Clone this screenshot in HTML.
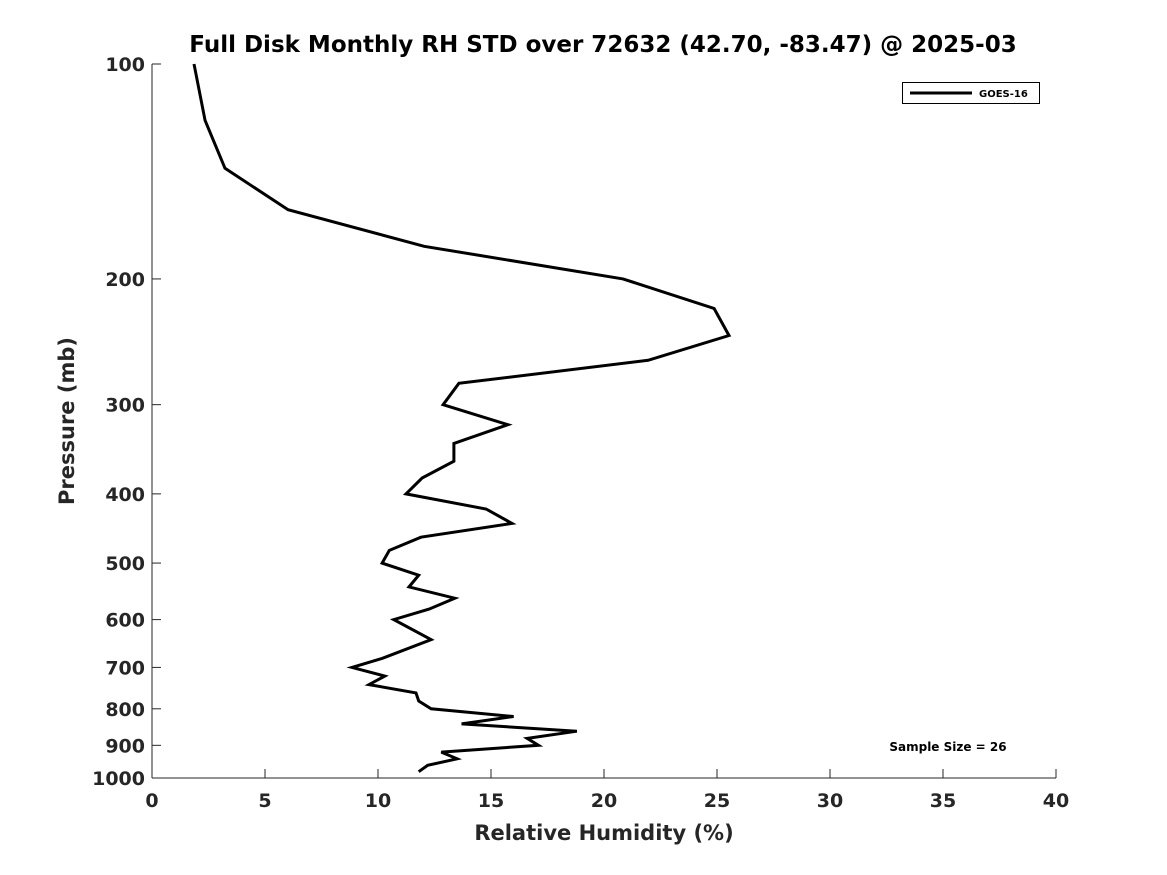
<!DOCTYPE html>
<html><head><meta charset="utf-8"><style>
html,body{margin:0;padding:0;background:#fff}
svg{display:block;font-family:"DejaVu Sans","Liberation Sans",sans-serif}
</style></head><body>
<svg id="chart" width="1167" height="875" viewBox="0 0 1167 875">
<rect width="1167" height="875" fill="#fff"/>
<text x="603" y="52" text-anchor="middle" font-size="23" font-weight="bold" fill="#000">Full Disk Monthly RH STD over 72632 (42.70, -83.47) @ 2025-03</text>
<g id="axes"></g>
<path id="series" fill="none" stroke="#000" stroke-width="3" stroke-linejoin="miter"/>
<g>
<rect x="902.5" y="82.5" width="137" height="21" fill="#fff" stroke="#000" stroke-width="1"/>
<line x1="910" y1="93" x2="972" y2="93" stroke="#000" stroke-width="3"/>
<text x="979" y="97" font-size="10" font-weight="bold" fill="#000">GOES-16</text>
</g>
<text x="948" y="751" text-anchor="middle" font-size="12" font-weight="bold" fill="#000">Sample Size = 26</text>
<text x="604" y="840" text-anchor="middle" font-size="21" font-weight="bold" fill="#262626">Relative Humidity (%)</text>
<text transform="translate(74,421) rotate(-90)" text-anchor="middle" font-size="21" font-weight="bold" fill="#262626">Pressure (mb)</text>
</svg>
<script>
const rhValues=[1.86,2.35,3.23,6.02,12.04,20.84,24.87,25.53,21.95,13.58,12.88,15.75,13.36,13.36,11.95,11.24,14.78,15.93,11.9,10.5,10.18,11.8,11.37,13.4,12.26,10.7,12.35,10.18,8.85,10.3,9.6,11.68,11.8,12.35,16.0,13.7,18.8,16.6,17.1,12.8,13.5,12.2,11.8];
const pressureLevels=[100,120,140,160,180,200,220,240,260,280,300,320,340,360,380,400,420,440,460,480,500,520,540,560,580,600,640,680,700,720,740,760,780,800,820,840,860,880,900,920,940,960,980];
const xTicks=[0,5,10,15,20,25,30,35,40];
const yTicks=[100,200,300,400,500,600,700,800,900,1000];
const X0=152,X1=1056,Y0=64,Y1=778;
function xs(v){return X0+(v-0)/40*(X1-X0);}
function ys(p){return Y0+Math.log10(p/100)*(Y1-Y0);}
const NS="http://www.w3.org/2000/svg";
const ax=document.getElementById('axes');
function mk(t,a){const e=document.createElementNS(NS,t);for(const k in a)e.setAttribute(k,a[k]);return e;}
const yl=mk('line',{x1:X0,y1:Y0,x2:X0,y2:Y1,stroke:'#262626','stroke-width':1});


ax.appendChild(yl);
const xl=mk('line',{x1:X0,y1:Y1,x2:X1,y2:Y1,stroke:'#262626','stroke-width':1});


ax.appendChild(xl);
xTicks.forEach(v=>{const x=xs(v);
const t=mk('line',{x1:x,y1:Y1,x2:x,y2:Y1-9,stroke:'#262626','stroke-width':1});


ax.appendChild(t);
const l=mk('text',{x:x,y:Y1+29,'text-anchor':'middle','font-size':19,'font-weight':'bold',fill:'#262626'});
l.textContent=v;


ax.appendChild(l);});
yTicks.forEach(p=>{const y=ys(p);
const t=mk('line',{x1:X0,y1:y,x2:X0+9,y2:y,stroke:'#262626','stroke-width':1});


ax.appendChild(t);
const l=mk('text',{x:X0-7,y:y+7,'text-anchor':'end','font-size':19,'font-weight':'bold',fill:'#262626'});
l.textContent=p;


ax.appendChild(l);});
document.getElementById('series').setAttribute('d',rhValues.map((v,i)=>(i?'L':'M')+xs(v).toFixed(1)+','+ys(pressureLevels[i]).toFixed(1)).join(' '));
</script>
</body></html>
